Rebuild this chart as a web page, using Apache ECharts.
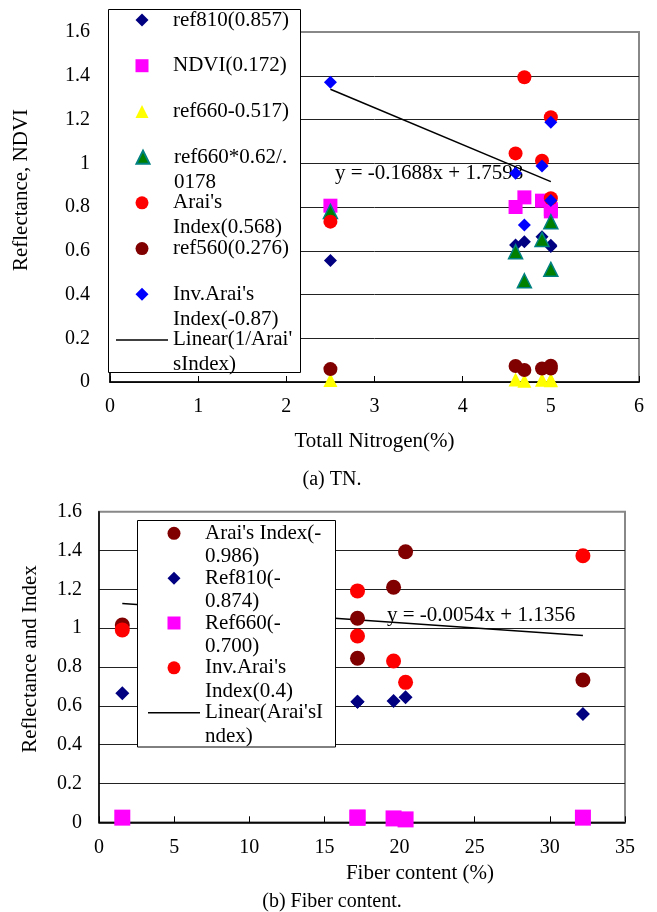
<!DOCTYPE html>
<html><head><meta charset="utf-8">
<script src="https://cdn.jsdelivr.net/npm/echarts@6/dist/echarts.min.js"></script>
<style>html,body{margin:0;padding:0;background:#fff}#c{width:657px;height:912px}</style>
</head><body><div id="c"></div>
<script>
const FONT = "'Liberation Serif','Times New Roman',serif";

// ---- (a) TN chart ----
const tnX      = [2.5, 4.6, 4.7, 4.9, 5.0, 5.0];
const ref810   = [0.556, 0.626, 0.641, 0.664, 0.619, 0.625];
const ndvi     = [0.806, 0.800, 0.844, 0.829, 0.790, 0.780];
const ref660   = [0.009, 0.012, 0.006, 0.010, 0.008, 0.010];
const ref660s  = [0.780, 0.596, 0.463, 0.652, 0.733, 0.515];
const arai     = [0.733, 1.045, 1.393, 1.012, 1.210, 0.840];
const ref560   = [0.059, 0.073, 0.055, 0.062, 0.074, 0.062];
const invArai  = [1.370, 0.954, 0.718, 0.987, 0.830, 1.188];
const trendTopX = [2.5, 5.0];
const trendTopY = [1.338, 0.916];
const topNames = ['ref810(0.857)', 'NDVI(0.172)', 'ref660-0.517)', 'ref660*0.62/.\n0178',
  "Arai's\nIndex(0.568)", 'ref560(0.276)', "Inv.Arai's\nIndex(-0.87)", "Linear(1/Arai'\nsIndex)"];
const topIcons = ['diamond', 'rect', 'triangle', 'triangle', 'circle', 'circle', 'diamond', 'line'];
const topXTicks = [0, 1, 2, 3, 4, 5, 6];

// ---- (b) Fiber chart ----
const fibX     = [1.55, 17.2, 17.2, 19.6, 20.4, 32.2];
const arai2    = [1.016, 1.051, 0.845, 1.211, 1.394, 0.733];
const ref810b  = [0.665, 0.621, 0.621, 0.625, 0.644, 0.558];
const ref660b  = [0.024, 0.024, 0.024, 0.020, 0.015, 0.024];
const invArai2 = [0.991, 0.960, 1.192, 0.831, 0.721, 1.373];
const trendBotX = [1.55, 32.2];
const trendBotY = [1.127, 0.962];
const botNames = ["Arai's Index(-\n0.986)", 'Ref810(-\n0.874)', 'Ref660(-\n0.700)',
  "Inv.Arai's\nIndex(0.4)", "Linear(Arai'sI\nndex)"];
const botIcons = ['circle', 'diamond', 'rect', 'circle', 'line'];
const botXTicks = [0, 5, 10, 15, 20, 25, 30, 35];

const eqTop = 'y = -0.1688x + 1.7598';
const eqBot = 'y = -0.0054x + 1.1356';
const capTop = '(a) TN.';
const capBot = '(b) Fiber content.';
const nameTopX = 'Totall Nitrogen(%)', nameTopY = 'Reflectance, NDVI';
const nameBotX = 'Fiber content (%)', nameBotY = 'Reflectance and Index';

const zip = (xs, ys) => xs.map((x, i) => [x, ys[i]]);
const ICONS = {
  diamond: 'path://M0,-1L1,0L0,1L-1,0Z',
  rect: 'path://M0,0H1V1H0Z',
  triangle: 'path://M0,-1L1,1L-1,1Z',
  circle: 'circle',
  line: 'path://M0,0H52V1.5H0Z'
};

// one legend component per entry so each marker sits on the first text line
function legends(names, icons, markerX, c0, step, lh) {
  return names.map((n, i) => {
    const lines = n.split('\n').length;
    const half = icons[i] === 'line' ? 26 : 6.5;
    return {
      orient: 'vertical', left: markerX - half, top: c0 + step * i - (2 * lines - 1) * lh / 2,
      padding: 0, itemWidth: 52, itemHeight: 13, symbolKeepAspect: true,
      selectedMode: false, z: 4,
      data: [{ name: n, icon: ICONS[icons[i]] }],
      formatter: nm => '\n'.repeat(lines - 1) + nm,
      textStyle: { fontFamily: FONT, fontSize: 21, color: '#000', lineHeight: lh }
    };
  });
}

function scatter(name, xs, ys, symbol, size, color, idx, border) {
  return {
    type: 'scatter', name, xAxisIndex: idx, yAxisIndex: idx,
    data: zip(xs, ys), symbol, symbolSize: size,
    itemStyle: { color, opacity: 1, borderColor: border || color, borderWidth: border ? 1.5 : 0 },
    emphasis: { disabled: true }, z: 2
  };
}
function trend(name, xs, ys, idx) {
  return {
    type: 'line', name, xAxisIndex: idx, yAxisIndex: idx, data: zip(xs, ys),
    symbol: 'none', showSymbol: false, lineStyle: { color: '#000', width: 1.5 }, itemStyle: { color: '#000' },
    emphasis: { disabled: true }, z: 2
  };
}
function xAxis(idx, min, max, interval, name, pad, gap) {
  return {
    type: 'value', gridIndex: idx, min, max, interval,
    name, nameLocation: 'middle', nameGap: gap, nameMoveOverlap: false,
    nameTextStyle: { fontFamily: FONT, fontSize: 21, color: '#000', padding: [0, 0, 0, pad] },
    axisLine: { show: true, lineStyle: { color: '#000', width: 1.5 } },
    axisTick: { show: true, inside: true, length: 6, lineStyle: { color: '#000' } },
    axisLabel: { fontFamily: FONT, fontSize: 20, color: '#000', margin: 15 },
    splitLine: { show: false }
  };
}
function yAxis(idx, name, pad, gap, margin) {
  return {
    type: 'value', gridIndex: idx, min: 0, max: 1.6, interval: 0.2,
    name, nameLocation: 'middle', nameGap: gap, nameRotate: 90, nameMoveOverlap: false,
    nameTextStyle: { fontFamily: FONT, fontSize: 21, color: '#000', padding: [0, 0, 0, pad] },
    axisLine: { show: true, lineStyle: { color: '#000', width: 1.5 } },
    axisTick: { show: false },
    axisLabel: { fontFamily: FONT, fontSize: 20, color: '#000', margin },
    splitLine: { show: true, showMaxLine: false, lineStyle: { color: '#222', width: 1 } }
  };
}

const chart = echarts.init(document.getElementById('c'), null, { renderer: 'canvas' });
chart.setOption({
  animation: false,
  backgroundColor: '#fff',
  grid: [
    { left: 110, top: 32, width: 529, height: 350, show: true, borderColor: '#888', borderWidth: 2,
      containLabel: false, outerBoundsMode: 'none' },
    { left: 99, top: 511.7, width: 526, height: 310.6, show: true, borderColor: '#888', borderWidth: 2,
      containLabel: false, outerBoundsMode: 'none' }
  ],
  xAxis: [
    xAxis(0, topXTicks[0], topXTicks[topXTicks.length - 1], 1, nameTopX, 0, 49),
    xAxis(1, botXTicks[0], botXTicks[botXTicks.length - 1], 5, nameBotX, 116, 41)
  ],
  yAxis: [
    yAxis(0, nameTopY, 34, 78, 20),
    yAxis(1, nameBotY, 16, 58, 17)
  ],
  legend: [
    ...legends(topNames, topIcons, 142, 20, 45.71, 25),
    ...legends(botNames, botIcons, 174, 533.3, 44.85, 23.5)
  ],
  graphic: [
    { type: 'rect', z: 3, shape: { x: 108.5, y: 9.5, width: 192, height: 363 },
      style: { fill: '#fff', stroke: '#000', lineWidth: 1 } },
    { type: 'rect', z: 3, shape: { x: 137.5, y: 520.5, width: 198, height: 226.5 },
      style: { fill: '#fff', stroke: '#000', lineWidth: 1 } },
    { type: 'text', z: 1, x: 335, y: 173, style: { text: eqTop, font: '21px ' + FONT, fill: '#000', verticalAlign: 'middle' } },
    { type: 'text', z: 1, x: 387, y: 615, style: { text: eqBot, font: '21px ' + FONT, fill: '#000', verticalAlign: 'middle' } },
    { type: 'text', z: 1, x: 332, y: 480, style: { text: capTop, font: '20px ' + FONT, fill: '#000', align: 'center', verticalAlign: 'middle' } },
    { type: 'text', z: 1, x: 332, y: 902, style: { text: capBot, font: '20px ' + FONT, fill: '#000', align: 'center', verticalAlign: 'middle' } }
  ],
  series: [
    scatter(topNames[0], tnX, ref810, 'diamond', 13, '#000080', 0),
    scatter(topNames[1], tnX, ndvi, 'rect', 14, '#FF00FF', 0),
    scatter(topNames[2], tnX, ref660, 'triangle', 14, '#FFFF00', 0),
    scatter(topNames[3], tnX, ref660s, 'triangle', 14, '#008000', 0, '#008080'),
    scatter(topNames[4], tnX, arai, 'circle', 14, '#FF0000', 0),
    scatter(topNames[5], tnX, ref560, 'circle', 14, '#800000', 0),
    scatter(topNames[6], tnX, invArai, 'diamond', 13, '#0000FF', 0),
    trend(topNames[7], trendTopX, trendTopY, 0),
    scatter(botNames[0], fibX, arai2, 'circle', 15, '#800000', 1),
    scatter(botNames[1], fibX, ref810b, 'diamond', 14, '#000080', 1),
    scatter(botNames[2], fibX, ref660b, 'rect', 16, '#FF00FF', 1),
    scatter(botNames[3], fibX, invArai2, 'circle', 15, '#FF0000', 1),
    trend(botNames[4], trendBotX, trendBotY, 1)
  ]
});
</script></body></html>
